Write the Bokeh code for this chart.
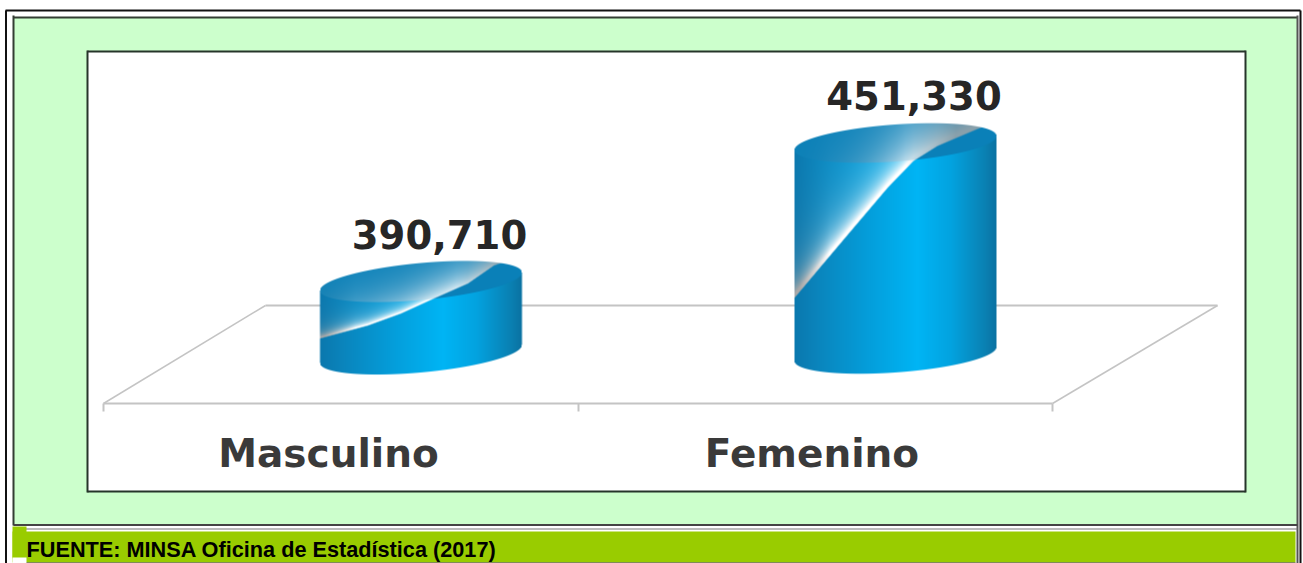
import numpy as np
from bokeh.core.properties import value
from bokeh.embed import file_html
from bokeh.models import Range1d
from bokeh.plotting import figure
from bokeh.resources import INLINE

# ---- data ----
categories = ["Masculino", "Femenino"]
totals = [390710, 451330]
source_note = "FUENTE: MINSA Oficina de Estadística (2017)"
axis_base = 359000

W, H = 1303, 563
PX_PER_UNIT = 0.002285
Y_TOP_VALUE = 390710 + 281 / PX_PER_UNIT
Y_BOTTOM_VALUE = Y_TOP_VALUE - H / PX_PER_UNIT
CAT_PX = 474.5
CAT0_PX = 340.0

p = figure(
    width=W, height=H, output_backend="svg", toolbar_location=None,
    x_range=Range1d(-CAT0_PX / CAT_PX, (W - CAT0_PX) / CAT_PX),
    y_range=Range1d(Y_BOTTOM_VALUE, Y_TOP_VALUE),
    min_border=0, outline_line_color=None, background_fill_color="white",
    border_fill_color="white",
)
p.axis.visible = False
p.grid.visible = False
p.extra_x_ranges = {"px": Range1d(0, W)}
p.extra_y_ranges = {"px": Range1d(H, 0)}


def box(l, t, r, b, color):
    p.quad(left=[l], right=[r], top=[t], bottom=[b], fill_color=color, line_color=None,
           x_range_name="px", y_range_name="px")


def line(xs, ys, color, width):
    p.line(xs, ys, line_color=color, line_width=width, x_range_name="px", y_range_name="px")


GREEN = "#CCFFCC"
# page frame
box(13, 17, 1297, 525, GREEN)
line([5, 1300], [10, 10], "#111111", 2)
line([5.5, 5.5], [10, 563], "#111111", 2)
line([1300, 1300], [10, 563], "#111111", 2)
line([13, 1297], [17, 17], "#333d33", 2)
line([13, 13], [15, 525], "#333d33", 2)
line([1297, 1297], [15, 563], "#555555", 2)
line([13, 1297], [524.5, 524.5], "#444444", 2)
line([13, 1297], [528.5, 528.5], "#777777", 1)
# source band
box(12, 531, 1295, 562, "#99CC00")
box(12, 526, 26, 558, "#99CC00")
box(12, 557, 26, 563, "#FFFFFF")
line([26, 1295], [562.5, 562.5], "#333333", 1)
p.text([26], [549], text=[source_note], text_font=value("Liberation Sans"), text_font_style="bold",
       text_font_size="21.7px", text_color="#000000", text_baseline="middle",
       x_range_name="px", y_range_name="px")

# plot frame
box(87, 51, 1245, 491, "#FFFFFF")
for xs, ys in (([87, 1245], [51, 51]), ([87, 1245], [491, 491]), ([87, 87], [50, 492]), ([1245, 1245], [50, 492])):
    line(xs, ys, "#26352a", 2)

# floor
FLOOR = "#C4C4C4"
line([265, 1217], [305, 305], FLOOR, 2)
line([103, 1052], [403, 403], FLOOR, 2)
line([103, 265], [403, 305], FLOOR, 1.5)
line([1052, 1217], [403, 305], FLOOR, 1.5)
for t in (103, 578, 1052):
    line([t, t], [403, 411], FLOOR, 2)


def hex_rgb(h):
    return np.array([int(h[i:i + 2], 16) for i in (1, 3, 5)], dtype=float)


BODY_U = [-1, -0.75, -0.25, 0.22, 0.55, 0.88, 1]
BODY_C = [hex_rgb(c) for c in ("#0B78AE", "#0A86BE", "#049FDC", "#00B5F5", "#03A3E0", "#0A82B4", "#0B72A2")]
TOP_C = hex_rgb("#0A80B8")
GREY = hex_rgb("#A8A8A8")
WHITE = hex_rgb("#FFFFFF")

# reflection edge, in px relative to the centre of each top face
CURVES = [
    ([-101, -53, -20, 13, 47, 73, 101], [57, 44, 32, 17, 2, -16, -26], 13, 0.5, 9),
    ([-101, -75, -42, -8, 18, 42, 82, 101], [155, 124, 85, 45, 18, 3, -14, -22], 42, 0.25, 7),
]
RX, RY = 101, 18.5
BASE_PY = 281 + (390710 - axis_base) * PX_PER_UNIT


def cylinder(cat_index, total, curve):
    cx = CAT0_PX + cat_index * CAT_PX + 80.5
    top_py = (Y_TOP_VALUE - total) * PX_PER_UNIT
    cxs, cys, L, u_hi, shear = curve
    x0, x1 = int(cx - RX - 2), int(cx + RX + 3)
    y0, y1 = int(top_py - RY - shear - 3), int(BASE_PY + RY + shear + 3)
    X, Y = np.meshgrid(np.arange(x0, x1) + 0.5, np.arange(y0, y1) + 0.5)
    u = (X - cx) / RX
    uc = np.clip(u, -1, 1)
    half = RY * np.sqrt(1 - uc ** 2)
    tilt = shear * uc
    rgb = np.stack([np.interp(uc, BODY_U, [c[k] for c in BODY_C]) for k in range(3)], axis=-1)

    inside_x = np.clip((1 - np.abs(u)) * RX + 0.5, 0, 1)
    upper = np.clip(Y - (top_py - tilt - half) + 0.5, 0, 1)
    lower = np.clip((BASE_PY - tilt + half) - Y + 0.5, 0, 1)
    alpha = inside_x * upper * lower

    top_mask = np.clip((top_py - tilt + half) - Y + 0.5, 0, 1)[..., None]
    rgb = rgb * (1 - top_mask) + TOP_C * top_mask

    yc = top_py + np.interp(X - cx, cxs, cys)
    d = yc - Y
    dp = np.maximum(d - L * 0.1, 0)
    bright = np.clip((uc + 0.95) / 0.30, 0, 1) * np.clip((u_hi + 0.35 - uc) / 0.5, 0, 1)
    target = GREY[None, None, :] * (1 - bright[..., None]) + WHITE[None, None, :] * bright[..., None]
    edge = np.clip(d / 1.5 + 0.5, 0, 1)
    strength = (0.62 * np.exp(-dp / (L * 0.32)) + 0.38 * np.exp(-dp / (L * 0.9))) * edge
    on_top = top_mask[..., 0]
    strength = strength * (1 - on_top) + on_top * np.exp(-dp / (L * 0.65 + 12)) * edge * 0.8
    strength = strength[..., None]
    rgb = rgb * (1 - strength) + target * strength

    img = np.zeros((y1 - y0, x1 - x0), dtype=np.uint32)
    view = img.view(dtype=np.uint8).reshape((y1 - y0, x1 - x0, 4))
    view[..., :3] = np.clip(rgb, 0, 255).astype(np.uint8)
    view[..., 3] = (alpha * 255).astype(np.uint8)
    p.image_rgba(
        image=[img[::-1]],
        x=[cat_index + (x0 - (CAT0_PX + cat_index * CAT_PX)) / CAT_PX],
        dw=[(x1 - x0) / CAT_PX],
        y=[Y_TOP_VALUE - y1 / PX_PER_UNIT],
        dh=[(y1 - y0) / PX_PER_UNIT],
    )


for i, (total, curve) in enumerate(zip(totals, CURVES)):
    cylinder(i, total, curve)

# value labels and category labels
p.text([i + 99 / CAT_PX for i in range(2)],
       [t + 47 / PX_PER_UNIT for t in totals],
       text=[f"{t:,}" for t in totals], text_font=value("DejaVu Sans"), text_font_style="bold",
       text_font_size="38.5px", text_color="#262626", text_align="center", text_baseline="middle")
p.text([i - (11 - 9 * i) / CAT_PX - 1 / CAT_PX for i in range(2)], [Y_TOP_VALUE - 453 / PX_PER_UNIT] * 2,
       text=categories, text_font=value("DejaVu Sans"), text_font_style="bold",
       text_font_size="39px", text_color="#3a3a3a", text_align="center", text_baseline="middle")

open("out.html", "w").write(file_html(p, INLINE))
